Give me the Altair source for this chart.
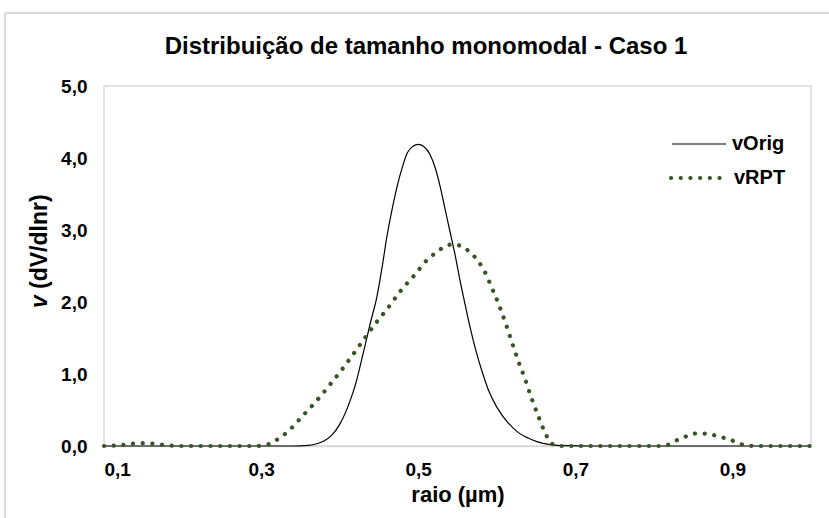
import altair as alt
import pandas as pd

# vOrig: original monomodal size distribution (radius in µm, dV/dlnr)
raio_orig = [0.10, 0.20, 0.30, 0.34, 0.36, 0.38, 0.39, 0.40, 0.413, 0.42, 0.43, 0.44,
             0.447, 0.455, 0.46, 0.467, 0.473, 0.48, 0.486, 0.493, 0.50, 0.507, 0.515,
             0.522, 0.528, 0.534, 0.54, 0.547, 0.553, 0.56, 0.566, 0.574, 0.582, 0.59,
             0.60, 0.613, 0.626, 0.64, 0.651, 0.668, 0.69, 0.72, 1.00]
v_orig = [0.0, 0.0, 0.0, 0.0, 0.01, 0.07, 0.15, 0.30, 0.62, 0.85, 1.29, 1.75,
          2.05, 2.55, 2.90, 3.30, 3.60, 3.88, 4.07, 4.16, 4.19, 4.16, 4.05,
          3.85, 3.60, 3.30, 3.00, 2.65, 2.31, 1.95, 1.65, 1.30, 1.01, 0.76,
          0.54, 0.34, 0.20, 0.11, 0.06, 0.02, 0.005, 0.0, 0.0]

# vRPT: retrieved distribution
raio_rpt = [0.10, 0.12, 0.135, 0.15, 0.165, 0.18, 0.20, 0.25, 0.29, 0.305, 0.314,
            0.335, 0.353, 0.370, 0.386, 0.402, 0.417, 0.432, 0.447, 0.463, 0.478,
            0.495, 0.511, 0.523, 0.531, 0.543, 0.554, 0.565, 0.574, 0.581, 0.587,
            0.592, 0.602, 0.611, 0.619, 0.627, 0.636, 0.644, 0.653, 0.663, 0.669,
            0.68, 0.75, 0.81, 0.819, 0.831, 0.843, 0.855, 0.868, 0.880, 0.893,
            0.904, 0.916, 0.93, 1.00]
v_rpt = [0.0, 0.01, 0.03, 0.04, 0.03, 0.01, 0.0, 0.0, 0.0, 0.01, 0.05,
         0.21, 0.42, 0.62, 0.83, 1.05, 1.27, 1.50, 1.72, 1.94, 2.16,
         2.37, 2.58, 2.69, 2.75, 2.80, 2.78, 2.70, 2.60, 2.49, 2.37,
         2.24, 1.98, 1.71, 1.45, 1.19, 0.93, 0.67, 0.41, 0.15, 0.04,
         0.0, 0.0, 0.0, 0.02, 0.09, 0.14, 0.176, 0.17, 0.14, 0.10,
         0.06, 0.01, 0.0, 0.0]

x_ticks = [0.1, 0.3, 0.5, 0.7, 0.9]
y_ticks = [0, 1, 2, 3, 4, 5]

FONT = "Liberation Sans"
GREEN = "#375623"
comma = "replace(format(datum.value, '.1f'), '.', ',')"

df_orig = pd.DataFrame({"raio": raio_orig, "v": v_orig})
df_rpt = pd.DataFrame({"raio": raio_rpt, "v": v_rpt})
one = pd.DataFrame({"k": [0]})

x_enc = alt.X("raio:Q",
              scale=alt.Scale(domain=[0.1, 1.0], nice=False, zero=False),
              axis=alt.Axis(values=x_ticks, labelExpr=comma, title="raio (µm)",
                            ticks=False, grid=False, domainColor="#d9d9d9",
                            domainWidth=1.5, labelFont=FONT, labelFontSize=19,
                            labelFontWeight="bold", labelColor="#000000",
                            labelPadding=14, titleFont=FONT, titleFontSize=22,
                            titleFontWeight="bold", titleColor="#000000",
                            titlePadding=5))
y_enc = alt.Y("v:Q",
              scale=alt.Scale(domain=[0, 5], nice=False),
              axis=alt.Axis(values=y_ticks, labelExpr=comma, title=None,
                            ticks=False, grid=False, domain=False,
                            labelFont=FONT, labelFontSize=19,
                            labelFontWeight="bold", labelColor="#000000",
                            labelPadding=17))

orig = alt.Chart(df_orig).mark_line(
    color="#000000", strokeWidth=1.2, interpolate="monotone"
).encode(x=x_enc, y=y_enc)

rpt = alt.Chart(df_rpt).mark_line(
    color=GREEN, strokeWidth=4.2, strokeDash=[0.1, 9.6], strokeCap="round",
    interpolate="monotone"
).encode(x="raio:Q", y="v:Q")

# legend
leg_orig = alt.Chart(one).mark_rule(color="#000000", strokeWidth=1.2).encode(
    x=alt.value(568), x2=alt.value(622), y=alt.value(58))
leg_rpt = alt.Chart(one).mark_rule(
    color=GREEN, strokeWidth=4.2, strokeDash=[0.1, 9.6], strokeCap="round"
).encode(x=alt.value(567), x2=alt.value(620), y=alt.value(92))
leg_txt1 = alt.Chart(one).mark_text(
    text="vOrig", font=FONT, fontSize=20, fontWeight="bold", align="left",
    baseline="middle", color="#000000").encode(x=alt.value(628), y=alt.value(58))
leg_txt2 = alt.Chart(one).mark_text(
    text="vRPT", font=FONT, fontSize=20, fontWeight="bold", align="left",
    baseline="middle", color="#000000").encode(x=alt.value(630), y=alt.value(92))

# y-axis title: italic "v" followed by the units
ytitle_v = alt.Chart(one).mark_text(
    text="v", font=FONT, fontSize=23, fontWeight="bold", fontStyle="italic",
    angle=270, align="left", baseline="middle", color="#000000"
).encode(x=alt.value(-64), y=alt.value(222))
ytitle_u = alt.Chart(one).mark_text(
    text="(dV/dlnr)", font=FONT, fontSize=23, fontWeight="bold",
    angle=270, align="left", baseline="middle", color="#000000"
).encode(x=alt.value(-64), y=alt.value(203))

# chart title
title = alt.Chart(one).mark_text(
    text="Distribuição de tamanho monomodal - Caso 1", font=FONT,
    fontSize=24, fontWeight="bold", align="center", baseline="middle",
    color="#000000"
).encode(x=alt.value(322), y=alt.value(-39))

# outer frame
frame_top = alt.Chart(one).mark_rule(color="#d9d9d9", strokeWidth=2).encode(
    x=alt.value(-99), x2=alt.value(740), y=alt.value(-73))
frame_left = alt.Chart(one).mark_rule(color="#d9d9d9", strokeWidth=2).encode(
    x=alt.value(-99), y=alt.value(-73), y2=alt.value(440))

chart = alt.layer(
    frame_top, frame_left, orig, rpt, leg_orig, leg_rpt, leg_txt1, leg_txt2,
    ytitle_v, ytitle_u, title
).properties(
    width=707, height=360,
    autosize=alt.AutoSizeParams(type="none"),
    padding={"left": 104, "top": 86, "right": 18, "bottom": 72},
    background="white",
).configure_view(stroke="#d9d9d9", strokeWidth=1.5)

chart.save("out.html", embed_options={"renderer": "svg", "actions": False})
